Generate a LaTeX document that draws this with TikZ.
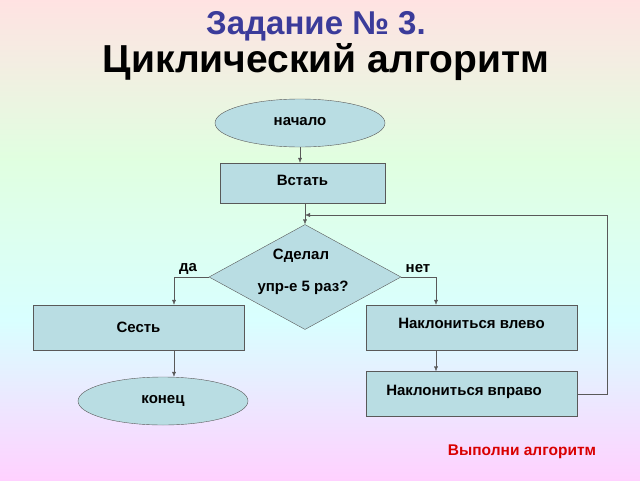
\documentclass[tikz,border=0pt]{standalone}
\usepackage{fontspec}
\setmainfont{Liberation Sans}
\usetikzlibrary{arrows.meta,shapes.geometric}
\definecolor{boxfill}{HTML}{B9DDE3}
\definecolor{titleblue}{HTML}{3B3B9A}
\begin{document}
\begin{tikzpicture}[x=1pt,y=-1pt,font=\bfseries\fontsize{15}{17}\selectfont]
\tikzstyle{block} = [rectangle, draw=black!65, fill=boxfill, minimum width=211pt, minimum height=45pt, inner sep=0pt]
\tikzstyle{term} = [ellipse, draw=black!65, fill=boxfill, minimum width=170pt, minimum height=48pt, inner sep=0pt]
\tikzstyle{decision} = [diamond, draw=black!65, fill=boxfill, minimum width=192pt, minimum height=105pt, inner sep=0pt, aspect=1.8]
\tikzstyle{line} = [draw=black!65, -{Latex[length=5pt,width=4pt]}]
% background
\shade[top color=pink!45, bottom color=green!12] (0,0) rectangle (640,160);
\shade[top color=green!12, bottom color=cyan!15] (0,160) rectangle (640,320);
\shade[top color=cyan!15, bottom color=magenta!18] (0,320) rectangle (640,480);
\useasboundingbox (0,0) rectangle (640,480);
% titles
\node[text=titleblue, font=\bfseries\fontsize{33}{36}\selectfont] (task) at (316,26) {Задание № 3.};
\node[font=\bfseries\fontsize{39}{42}\selectfont] (title) at (326,62) {Циклический алгоритм};
% shapes
\node[term] (start) at (300,123) {\raisebox{4pt}{начало}};
\node[block, minimum width=165pt, minimum height=40pt] (stand) at (302.5,183) {\raisebox{5pt}{Встать}};
\node[decision] (decide) at (305,277) {};
\node (q1) at (301,256) {Сделал};
\node (q2) at (303,288) {упр-е 5 раз?};
\node[block] (sit) at (138.5,327.5) {Сесть};
\node[block] (left) at (471.5,327.5) {\raisebox{8pt}{Наклониться влево}};
\node[term] (stop) at (163,401) {конец};
\node[block] (right) at (471.5,394) {\raisebox{8pt}{\hspace{-15pt}Наклониться вправо}};
\node (yes) at (188,269) {да};
\node (no) at (418,269) {нет};
\node[text=red!85!black, font=\bfseries\fontsize{15.5}{17}\selectfont] (run) at (522,452) {Выполни алгоритм};
% connectors
\path[line] (start.south) -- (stand.north -| start.south);
\path[line] (stand.south -| decide.north) -- (decide.north);
\path[line] (decide.west) -| (sit.north -| 174,0);
\path[line] (decide.east) -| (left.north -| 436,0);
\path[line] (sit.south -| 174,0) -- (stop.north -| 174,0);
\path[line] (left.south -| 436,0) -- (right.north -| 436,0);
\path[line] (right.east) -| (607,215) -- (decide.north |- 0,215);
\end{tikzpicture}
\end{document}
